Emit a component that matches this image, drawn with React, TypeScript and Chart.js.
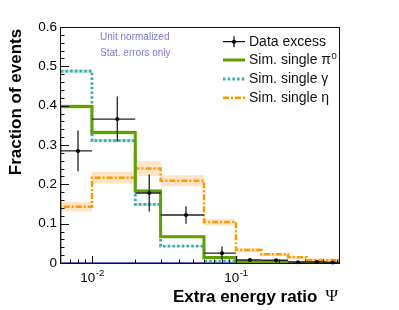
import React, { useEffect, useRef } from "react";
import { Chart, registerables } from "chart.js";

Chart.register(...registerables);

// ---- data ----
const binEdges = [0.006, 0.01, 0.02, 0.03, 0.06, 0.1, 0.15, 0.23, 0.31, 0.42, 0.52];
const dataCenters = [0.008, 0.015, 0.025, 0.045, 0.08, 0.125, 0.19, 0.27, 0.365, 0.47];
const dataExcess = [0.285, 0.366, 0.178, 0.122, 0.025, 0.0076, 0.007, 0.002, 0.0025, 0.001];
const dataExcessErr = [0.052, 0.057, 0.047, 0.022, 0.017, 0.004, 0.003, 0.002, 0.002, 0.001];
const simPi0 = [0.398, 0.332, 0.183, 0.067, 0.014, 0.003, 0.002, 0.001, 0.001, 0.0005];
const simPi0Err = [0.005, 0.005, 0.004, 0.003, 0.002, 0.001, 0.001, 0.001, 0.001, 0.001];
const simGamma = [0.488, 0.311, 0.149, 0.043, 0.005, 0.001, 0.0005, 0.0, 0.0, 0.0];
const simGammaErr = [0.004, 0.004, 0.004, 0.002, 0.001, 0.001, 0.0, 0.0, 0.0, 0.0];
const simEta = [0.143, 0.217, 0.24, 0.209, 0.104, 0.033, 0.022, 0.0145, 0.0076, 0.0076];
const simEtaErr = [0.012, 0.015, 0.019, 0.014, 0.008, 0.005, 0.004, 0.003, 0.002, 0.002];

const xMajorTicks = [0.01, 0.1];
const xMajorLabels = [["10", "-2"], ["10", "-1"]];
const xMinorTicks = [0.007, 0.008, 0.009, 0.02, 0.03, 0.04, 0.05, 0.06, 0.07, 0.08, 0.09, 0.2, 0.3, 0.4, 0.5];
const yMajorTicks = [0, 0.1, 0.2, 0.3, 0.4, 0.5, 0.6];
const yMinorTicks = [0.02, 0.04, 0.06, 0.08, 0.12, 0.14, 0.16, 0.18, 0.22, 0.24, 0.26, 0.28, 0.32, 0.34, 0.36, 0.38, 0.42, 0.44, 0.46, 0.48, 0.52, 0.54, 0.56, 0.58];

const legendLabels = ["Data excess", "Sim. single \u03c0", "Sim. single \u03b3", "Sim. single \u03b7"];
const noteLines = ["Unit normalized", "Stat. errors only"];
const xTitle = "Extra energy ratio";
const xTitleSymbol = "\u03a8";
const yTitle = "Fraction of events";

const GREEN = "#62a000";
const CYAN = "#3aacac";
const ORANGE = "#ff9a00";
const SANS = "'Liberation Sans', Arial, Helvetica, sans-serif";

function stepLine(vals: number[]) {
  const pts: { x: number; y: number }[] = [{ x: binEdges[0], y: 0 }];
  vals.forEach((v, i) => pts.push({ x: binEdges[i], y: v }));
  pts.push({ x: binEdges[binEdges.length - 1], y: vals[vals.length - 1] });
  return pts;
}
function stepBand(vals: number[], errs: number[], sign: number) {
  const pts: { x: number; y: number }[] = [];
  vals.forEach((v, i) => pts.push({ x: binEdges[i], y: Math.max(0, v + sign * errs[i]) }));
  pts.push({
    x: binEdges[binEdges.length - 1],
    y: Math.max(0, vals[vals.length - 1] + sign * errs[errs.length - 1]),
  });
  return pts;
}

const decorPlugin = {
  id: "decor",
  afterDatasetsDraw(chart: any) {
    const ctx = chart.ctx as CanvasRenderingContext2D;
    const xs = chart.scales.x;
    const ys = chart.scales.y;
    const a = chart.chartArea;
    ctx.save();
    // error bars for data
    ctx.strokeStyle = "#222";
    ctx.lineWidth = 1.3;
    dataExcess.forEach((v, i) => {
      const x0 = xs.getPixelForValue(binEdges[i]);
      const x1 = xs.getPixelForValue(binEdges[i + 1]);
      const xc = xs.getPixelForValue(dataCenters[i]);
      const yc = ys.getPixelForValue(v);
      const yl = ys.getPixelForValue(Math.max(0, v - dataExcessErr[i]));
      const yh = ys.getPixelForValue(v + dataExcessErr[i]);
      ctx.beginPath();
      ctx.moveTo(x0, yc);
      ctx.lineTo(x1, yc);
      ctx.moveTo(xc, yl);
      ctx.lineTo(xc, yh);
      ctx.stroke();
      ctx.fillStyle = "#000";
      ctx.beginPath();
      ctx.arc(xc, yc, 2, 0, Math.PI * 2);
      ctx.fill();
    });
    ctx.restore();
  },
  afterDraw(chart: any) {
    const ctx = chart.ctx as CanvasRenderingContext2D;
    const xs = chart.scales.x;
    const ys = chart.scales.y;
    const a = chart.chartArea;
    ctx.save();
    // frame
    ctx.strokeStyle = "#111";
    ctx.lineWidth = 1;
    ctx.strokeRect(Math.round(a.left) + 0.5, Math.round(a.top) + 0.5, Math.round(a.right - a.left), Math.round(a.bottom - a.top));
    // y ticks
    ctx.beginPath();
    yMajorTicks.forEach((t) => {
      const y = Math.round(ys.getPixelForValue(t)) + 0.5;
      ctx.moveTo(a.left, y);
      ctx.lineTo(a.left + 9, y);
    });
    yMinorTicks.forEach((t) => {
      const y = Math.round(ys.getPixelForValue(t)) + 0.5;
      ctx.moveTo(a.left, y);
      ctx.lineTo(a.left + 4.5, y);
    });
    // x ticks
    xMajorTicks.forEach((t) => {
      const x = Math.round(xs.getPixelForValue(t)) + 0.5;
      ctx.moveTo(x, a.bottom);
      ctx.lineTo(x, a.bottom - 7);
    });
    xMinorTicks.forEach((t) => {
      const x = Math.round(xs.getPixelForValue(t)) + 0.5;
      ctx.moveTo(x, a.bottom);
      ctx.lineTo(x, a.bottom - 3.5);
    });
    ctx.stroke();

    // x tick labels (10^n)
    ctx.fillStyle = "#000";
    ctx.textBaseline = "middle";
    ctx.textAlign = "left";
    xMajorTicks.forEach((t, i) => {
      const [base, exp] = xMajorLabels[i];
      ctx.font = `13.5px ${SANS}`;
      const wb = ctx.measureText(base).width;
      ctx.font = `9.5px ${SANS}`;
      const we = ctx.measureText(exp).width;
      const x = xs.getPixelForValue(t) - (wb + we) / 2;
      ctx.font = `13.5px ${SANS}`;
      ctx.fillText(base, x, 278.5);
      ctx.font = `9.5px ${SANS}`;
      ctx.fillText(exp, x + wb + 0.5, 273);
    });

    // axis titles
    ctx.font = `bold 17px ${SANS}`;
    const wt = ctx.measureText(xTitle).width;
    ctx.font = `17px 'Liberation Serif', 'DejaVu Serif', serif`;
    const ws = ctx.measureText(xTitleSymbol).width;
    const xEnd = 338;
    ctx.font = `bold 17px ${SANS}`;
    ctx.fillText(xTitle, xEnd - ws - 8 - wt, 297);
    ctx.font = `17px 'Liberation Serif', 'DejaVu Serif', serif`;
    ctx.fillText(xTitleSymbol, xEnd - ws, 297);

    ctx.save();
    ctx.translate(16, 102);
    ctx.rotate(-Math.PI / 2);
    ctx.textAlign = "center";
    ctx.font = `bold 17px ${SANS}`;
    ctx.fillText(yTitle, 0, 0);
    ctx.restore();

    // notes
    ctx.fillStyle = "#7d78e0";
    ctx.font = `10px ${SANS}`;
    ctx.textAlign = "left";
    ctx.fillText(noteLines[0], 100, 37.5);
    ctx.fillText(noteLines[1], 100, 53.5);

    // legend
    const lx0 = 223, lx1 = 245, tx = 249;
    const rows = [41.7, 60, 79, 97.7];
    ctx.lineWidth = 1.3;
    ctx.strokeStyle = "#111";
    ctx.beginPath();
    ctx.moveTo(lx0, rows[0]);
    ctx.lineTo(lx1, rows[0]);
    ctx.moveTo(234, rows[0] - 5.5);
    ctx.lineTo(234, rows[0] + 5.5);
    ctx.stroke();
    ctx.fillStyle = "#000";
    ctx.beginPath();
    ctx.arc(234, rows[0], 2, 0, Math.PI * 2);
    ctx.fill();

    ctx.lineWidth = 3;
    ctx.strokeStyle = GREEN;
    ctx.beginPath();
    ctx.moveTo(lx0, rows[1]);
    ctx.lineTo(lx1, rows[1]);
    ctx.stroke();

    ctx.lineWidth = 2.8;
    ctx.strokeStyle = CYAN;
    ctx.setLineDash([2.5, 2.2]);
    ctx.beginPath();
    ctx.moveTo(lx0, rows[2]);
    ctx.lineTo(lx1, rows[2]);
    ctx.stroke();

    ctx.lineWidth = 2.5;
    ctx.strokeStyle = ORANGE;
    ctx.setLineDash([6, 2, 2, 2]);
    ctx.beginPath();
    ctx.moveTo(lx0, rows[3]);
    ctx.lineTo(lx1, rows[3]);
    ctx.stroke();
    ctx.setLineDash([]);

    ctx.fillStyle = "#111";
    ctx.font = `14px ${SANS}`;
    legendLabels.forEach((t, i) => {
      ctx.fillText(t, tx, rows[i] + 0.5);
    });
    const wpi = ctx.measureText(legendLabels[1]).width;
    ctx.font = `9.5px ${SANS}`;
    ctx.fillText("0", tx + wpi + 0.5, rows[1] - 4);
    ctx.restore();
  },
};

export default function App() {
  const ref = useRef<HTMLCanvasElement | null>(null);
  useEffect(() => {
    document.body.style.margin = "0";
    const canvas = ref.current;
    if (!canvas) return;
    const bandBase = { pointRadius: 0, borderWidth: 0, stepped: true, tension: 0 };
    const chart = new Chart(canvas, {
      type: "line",
      data: {
        datasets: [
          { ...bandBase, data: stepBand(simPi0, simPi0Err, 1), fill: false, order: 12, borderColor: "rgba(0,0,0,0)" },
          { ...bandBase, data: stepBand(simPi0, simPi0Err, -1), fill: "-1", order: 12, borderColor: "rgba(0,0,0,0)", backgroundColor: "rgba(170,210,110,0.6)" },
          { ...bandBase, data: stepBand(simGamma, simGammaErr, 1), fill: false, order: 11, borderColor: "rgba(0,0,0,0)" },
          { ...bandBase, data: stepBand(simGamma, simGammaErr, -1), fill: "-1", order: 11, borderColor: "rgba(0,0,0,0)", backgroundColor: "rgba(150,215,215,0.6)" },
          { ...bandBase, data: stepBand(simEta, simEtaErr, 1), fill: false, order: 10, borderColor: "rgba(0,0,0,0)" },
          { ...bandBase, data: stepBand(simEta, simEtaErr, -1), fill: "-1", order: 10, borderColor: "rgba(0,0,0,0)", backgroundColor: "rgba(255,205,150,0.55)" },
          {
            data: [{ x: binEdges[0], y: 0 }, { x: binEdges[binEdges.length - 1], y: 0 }],
            borderColor: "#3a3aa8", borderWidth: 1.5, pointRadius: 0, fill: false, order: 5,
          },
          {
            data: stepLine(simEta), stepped: true, borderColor: ORANGE, borderWidth: 2.5,
            borderDash: [6, 2, 2, 2], pointRadius: 0, fill: false, order: 3,
          },
          {
            data: stepLine(simGamma), stepped: true, borderColor: CYAN, borderWidth: 2.8,
            borderDash: [2.5, 2.2], pointRadius: 0, fill: false, order: 2,
          },
          {
            data: stepLine(simPi0), stepped: true, borderColor: GREEN, borderWidth: 3,
            pointRadius: 0, fill: false, order: 1,
          },
          {
            data: dataCenters.map((x, i) => ({ x, y: dataExcess[i] })),
            showLine: false, pointRadius: 0, borderColor: "#000", backgroundColor: "#000", order: 0,
          },
        ],
      } as any,
      options: {
        animation: false,
        responsive: false,
        events: [],
        layout: { padding: { top: 27, right: 60, left: 0, bottom: 0 } },
        plugins: { legend: { display: false }, tooltip: { enabled: false }, title: { display: false } },
        scales: {
          x: {
            type: "logarithmic",
            min: 0.006,
            max: 0.52,
            grid: { display: false, drawTicks: false },
            border: { display: false },
            ticks: { display: false },
            afterFit: (s: any) => { s.height = 47; },
          },
          y: {
            type: "linear",
            min: 0,
            max: 0.6,
            grid: { display: false, drawTicks: false },
            border: { display: false },
            ticks: {
              stepSize: 0.1,
              padding: 3,
              color: "#000",
              font: { family: SANS, size: 13.5 },
              callback: (v: any) => (Number(v) === 0 ? "0" : Number(v).toFixed(1)),
            },
            afterFit: (s: any) => { s.width = 60; },
          },
        },
      } as any,
      plugins: [decorPlugin],
    });
    return () => chart.destroy();
  }, []);
  return (
    <div style={{ width: 399, height: 310 }}>
      <canvas ref={ref} width={399} height={310} style={{ display: "block" }} />
    </div>
  );
}
